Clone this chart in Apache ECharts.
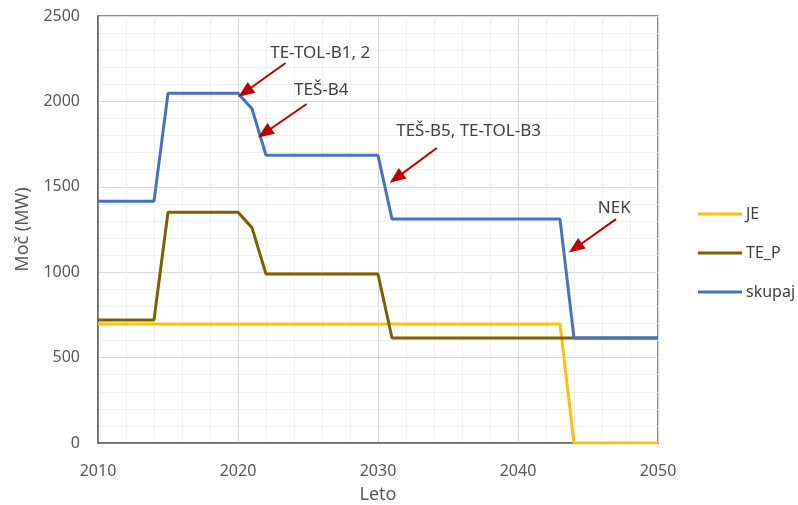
<!DOCTYPE html>
<html>
<head>
<meta charset="utf-8">
<script src="https://cdn.jsdelivr.net/npm/echarts@6/dist/echarts.min.js"></script>
<style>
  html, body { margin: 0; padding: 0; background: #fff; }
  #chart { width: 798px; height: 505px; }
</style>
</head>
<body>
<div id="chart"></div>
<script>
// breakpoint years and values (lines are straight between them)
var jeYears = [2010, 2043, 2044, 2050];
var jeVals = [696, 696, 0, 0];

var teYears = [2010, 2014, 2015, 2020, 2021, 2022, 2030, 2031, 2043, 2044, 2050];
var teVals = [720, 720, 1351, 1351, 1261, 989, 989, 615, 615, 615, 615];

var skYears = [2010, 2014, 2015, 2020, 2021, 2022, 2030, 2031, 2043, 2044, 2050];
var skVals = [1416, 1416, 2047, 2047, 1957, 1685, 1685, 1311, 1311, 615, 615];

// annotations: label text + where it sits, arrows tail -> head (data coords)
var noteNames = ["TE-TOL-B1, 2", "TEŠ-B4", "TEŠ-B5, TE-TOL-B3", "NEK"];
var notePos = [[2022.3, 2283], [2024.0, 2067], [2031.3, 1827], [2045.7, 1376]];
var arrowTail = [[2023.4, 2225], [2024.9, 1985], [2034.2, 1727], [2047.0, 1311]];
var arrowHead = [[2020.5, 2055], [2021.9, 1815], [2031.3, 1551], [2044.1, 1142]];

var font = "Noto Sans";

function pairs(xs, ys) {
    var out = [];
    for (var i = 0; i < xs.length; i++) out.push([xs[i], ys[i]]);
    return out;
}

var arrows = [];
for (var i = 0; i < arrowTail.length; i++) {
    arrows.push([{ coord: arrowTail[i] }, { coord: arrowHead[i] }]);
}
var notes = [];
for (var j = 0; j < noteNames.length; j++) {
    notes.push({ name: noteNames[j], coord: notePos[j] });
}

function plain(v) { return String(v); }

var chart = echarts.init(document.getElementById('chart'));
chart.setOption({
    animation: false,
    textStyle: { fontFamily: font },
    grid: {
        left: 98, top: 16, width: 560, height: 427,
        outerBoundsMode: 'none', containLabel: false,
        show: true, borderColor: '#666', borderWidth: 1.5, backgroundColor: 'transparent'
    },
    legend: {
        orient: 'vertical',
        left: 693, top: 201,
        itemWidth: 44, itemHeight: 3, itemGap: 23,
        icon: 'rect',
        textStyle: { color: '#404040', fontSize: 16, fontFamily: font, padding: [0, 0, 0, -1] },
        data: ['JE', 'TE_P', 'skupaj']
    },
    xAxis: {
        type: 'value', min: 2010, max: 2050, interval: 10,
        name: 'Leto', nameLocation: 'middle', nameGap: 43,
        nameTextStyle: { color: '#595959', fontSize: 18 },
        axisLine: { show: true, lineStyle: { color: '#666', width: 1.5 } },
        axisTick: { show: false },
        axisLabel: { color: '#595959', fontSize: 16, margin: 20, formatter: plain },
        splitLine: { show: true, lineStyle: { color: '#d9d9d9', width: 1 } },
        minorTick: { show: false, splitNumber: 5 },
        minorSplitLine: { show: true, lineStyle: { color: '#f0f0f0', width: 1 } }
    },
    yAxis: {
        type: 'value', min: 0, max: 2500, interval: 500,
        name: 'Moč (MW)', nameLocation: 'middle', nameGap: 66,
        nameTextStyle: { color: '#595959', fontSize: 18 },
        axisLine: { show: true, lineStyle: { color: '#666', width: 1.5 } },
        axisTick: { show: false },
        axisLabel: { color: '#595959', fontSize: 16, margin: 18, formatter: plain },
        splitLine: { show: true, lineStyle: { color: '#d9d9d9', width: 1 } },
        minorTick: { show: false, splitNumber: 5 },
        minorSplitLine: { show: true, lineStyle: { color: '#f0f0f0', width: 1 } }
    },
    series: [
        {
            name: 'JE', type: 'line', symbol: 'none',
            color: '#FFC000',
            lineStyle: { width: 3, color: '#FFC000' },
            data: pairs(jeYears, jeVals)
        },
        {
            name: 'TE_P', type: 'line', symbol: 'none',
            color: '#7F6000',
            lineStyle: { width: 3, color: '#7F6000' },
            data: pairs(teYears, teVals)
        },
        {
            name: 'skupaj', type: 'line', symbol: 'none',
            color: '#4472C4',
            lineStyle: { width: 3, color: '#4472C4' },
            data: pairs(skYears, skVals),
            markLine: {
                silent: true,
                symbol: ['none', 'triangle'],
                symbolSize: [13, 16],
                lineStyle: { color: '#C00000', width: 2, type: 'solid' },
                label: { show: false },
                emphasis: { disabled: true },
                data: arrows
            },
            markPoint: {
                silent: true,
                symbol: 'circle',
                symbolSize: 0,
                label: {
                    show: true, position: 'right', distance: 0,
                    formatter: '{b}', color: '#404040', fontSize: 17, fontFamily: font
                },
                data: notes
            }
        }
    ]
});
</script>
</body>
</html>
